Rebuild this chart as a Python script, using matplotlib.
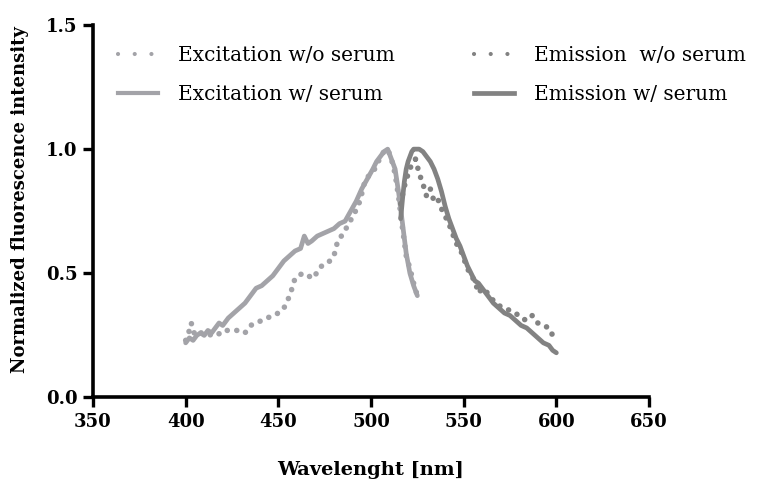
import matplotlib.pyplot as plt
from matplotlib.lines import Line2D

# excitation, with serum (solid)
exc_ws_wl = [400, 402, 404, 406, 408, 410, 412, 414, 416, 418, 420, 423, 426, 429, 432,
             435, 438, 441, 444, 447, 450, 453, 456, 459, 462, 464, 466, 468, 471, 474,
             477, 480, 483, 486, 489, 492, 495, 498, 501, 503, 505, 507, 509, 511, 513,
             515, 517, 519, 521, 523, 525]
exc_ws = [0.22, 0.24, 0.23, 0.25, 0.26, 0.25, 0.27, 0.26, 0.28, 0.30, 0.29, 0.32, 0.34, 0.36, 0.38,
          0.41, 0.44, 0.45, 0.47, 0.49, 0.52, 0.55, 0.57, 0.59, 0.60, 0.65, 0.62, 0.63, 0.65, 0.66,
          0.67, 0.68, 0.70, 0.71, 0.75, 0.79, 0.84, 0.88, 0.92, 0.95, 0.97, 0.99, 1.00, 0.96, 0.92,
          0.82, 0.70, 0.58, 0.50, 0.45, 0.41]

# excitation, without serum (dotted)
exc_wo_wl = [400, 402, 403, 405, 408, 411, 414, 417, 420, 423, 426, 429, 432, 435, 438,
             441, 444, 447, 450, 453, 455, 457, 459, 461, 463, 466, 469, 472, 475, 478,
             480, 482, 485, 488, 491, 494, 497, 500, 503, 505, 507, 509, 511, 513, 515,
             517, 519, 521, 523, 525]
exc_wo = [0.23, 0.27, 0.30, 0.25, 0.26, 0.26, 0.25, 0.25, 0.27, 0.27, 0.27, 0.27, 0.26, 0.29, 0.30,
          0.31, 0.32, 0.33, 0.34, 0.36, 0.39, 0.43, 0.48, 0.49, 0.50, 0.49, 0.48, 0.52, 0.54, 0.55,
          0.57, 0.63, 0.66, 0.70, 0.74, 0.79, 0.88, 0.90, 0.93, 0.97, 0.99, 1.00, 0.96, 0.90, 0.80,
          0.68, 0.57, 0.52, 0.46, 0.41]

# emission, with serum (solid)
em_ws_wl = [516, 517, 518, 519, 520, 521, 522, 523, 524, 526, 528, 530, 532, 534, 536,
            538, 540, 542, 544, 546, 548, 550, 552, 554, 556, 558, 560, 563, 566, 569,
            572, 575, 578, 581, 584, 587, 590, 593, 596, 598, 600]
em_ws = [0.72, 0.80, 0.87, 0.92, 0.95, 0.97, 0.99, 1.00, 1.00, 1.00, 0.99, 0.97, 0.95, 0.92, 0.88,
         0.83, 0.77, 0.72, 0.68, 0.64, 0.61, 0.57, 0.53, 0.50, 0.47, 0.46, 0.44, 0.41, 0.38, 0.36,
         0.34, 0.33, 0.31, 0.29, 0.28, 0.26, 0.24, 0.22, 0.21, 0.19, 0.18]

# emission, without serum (dotted)
em_wo_wl = [516, 518, 520, 522, 524, 525, 527, 528, 530, 532, 534, 536, 538, 540, 542,
            544, 546, 548, 550, 552, 554, 556, 558, 560, 563, 566, 569, 572, 575, 578,
            581, 584, 587, 590, 593, 596, 598, 600]
em_wo = [0.78, 0.85, 0.90, 0.94, 0.96, 0.93, 0.88, 0.86, 0.81, 0.84, 0.79, 0.80, 0.76, 0.73, 0.70,
         0.66, 0.62, 0.60, 0.56, 0.52, 0.49, 0.47, 0.42, 0.44, 0.42, 0.39, 0.37, 0.36, 0.35, 0.34,
         0.32, 0.31, 0.33, 0.30, 0.29, 0.28, 0.25, 0.24]

labels = ['Excitation w/o serum', 'Excitation w/ serum',
          'Emission  w/o serum', 'Emission w/ serum']
x_ticks = [350, 400, 450, 500, 550, 600, 650]
y_ticks = [0.0, 0.5, 1.0, 1.5]

exc_color = '#a3a3a8'
em_color = '#828282'
data_dots = (0, (0.01, 1.7))
legend_dots = (0, (0.01, 4.0))

plt.rcParams['font.family'] = 'DejaVu Serif'

fig = plt.figure(figsize=(7.66, 4.8), dpi=100)
ax = fig.add_axes([0.1214, 0.1719, 0.7259, 0.7761])

ax.plot(exc_wo_wl, exc_wo, color=exc_color, lw=4, ls=data_dots, dash_capstyle='round')
ax.plot(exc_ws_wl, exc_ws, color=exc_color, lw=3.4, solid_capstyle='round')
ax.plot(em_wo_wl, em_wo, color=em_color, lw=4, ls=data_dots, dash_capstyle='round')
ax.plot(em_ws_wl, em_ws, color=em_color, lw=3.4, solid_capstyle='round')

ax.set_xlim(350, 650)
ax.set_ylim(0, 1.5)
ax.set_xticks(x_ticks)
ax.set_yticks(y_ticks)
ax.set_yticklabels(['%.1f' % v for v in y_ticks])
ax.spines['top'].set_visible(False)
ax.spines['right'].set_visible(False)
for s in ['left', 'bottom']:
    ax.spines[s].set_linewidth(2.6)
ax.tick_params(width=2.4, length=7, labelsize=13, pad=4)
for lab in ax.get_xticklabels() + ax.get_yticklabels():
    lab.set_fontweight('bold')

ax.set_xlabel('Wavelenght [nm]', fontsize=14, fontweight='bold', labelpad=22)
ax.set_ylabel('Normalized fluorescence intensity', fontsize=13, fontweight='bold')
ax.yaxis.set_label_coords(-0.115, 0.53)

handles = [
    Line2D([], [], color=exc_color, lw=3, ls=legend_dots, dash_capstyle='round'),
    Line2D([], [], color=exc_color, lw=3),
    Line2D([], [], color=em_color, lw=3, ls=legend_dots, dash_capstyle='round'),
    Line2D([], [], color=em_color, lw=3.4),
]
ax.legend(handles, labels, ncol=2, loc='upper left', bbox_to_anchor=(0.012, 0.993),
          frameon=False, fontsize=14.5, handlelength=2.0, handletextpad=1.0,
          columnspacing=3.9, labelspacing=1.0)

fig.savefig('out.png', dpi=100)
